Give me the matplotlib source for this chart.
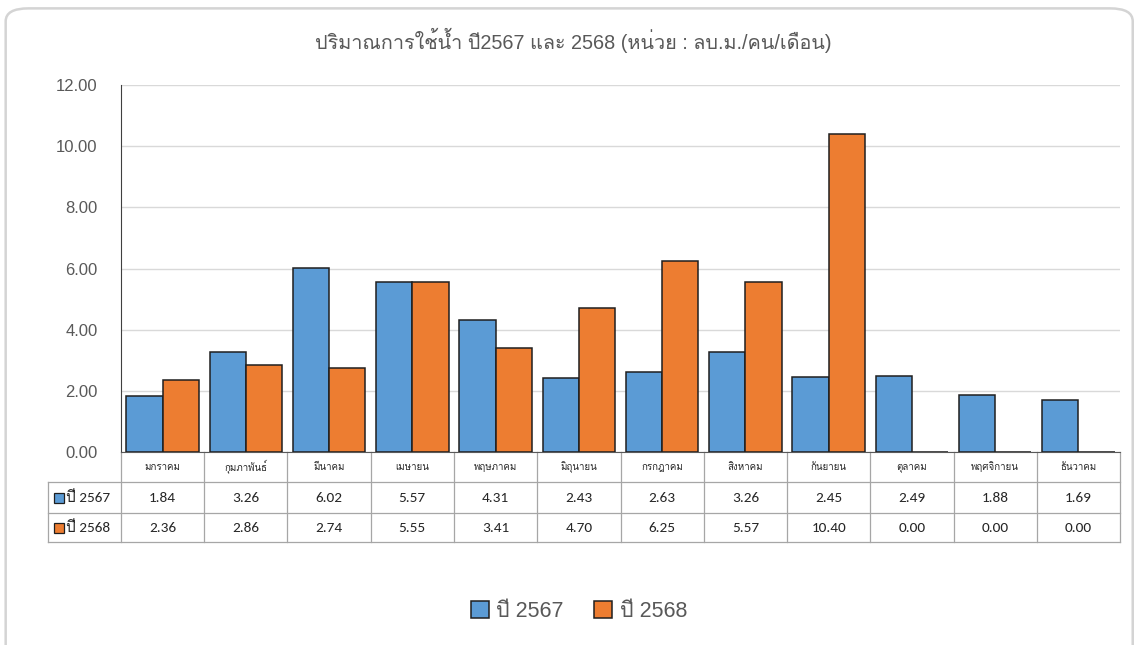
import numpy as np
import matplotlib
matplotlib.use("Agg")
import matplotlib.pyplot as plt
from matplotlib import font_manager
from matplotlib.ft2font import FT2Font
from matplotlib.patches import FancyBboxPatch

# data
months = ['มกราคม', 'กุมภาพันธ์', 'มีนาคม', 'เมษายน', 'พฤษภาคม', 'มิถุนายน',
          'กรกฎาคม', 'สิงหาคม', 'กันยายน', 'ตุลาคม', 'พฤศจิกายน', 'ธันวาคม']
y2567 = [1.84, 3.26, 6.02, 5.57, 4.31, 2.43, 2.63, 3.26, 2.45, 2.49, 1.88, 1.69]
y2568 = [2.36, 2.86, 2.74, 5.55, 3.41, 4.70, 6.25, 5.57, 10.40, 0.00, 0.00, 0.00]
series_names = ['ปี 2567', 'ปี 2568']
title = 'ปริมาณการใช้น้ำ ปี2567 และ 2568 (หน่วย : ลบ.ม./คน/เดือน)'

BLUE = '#5B9BD5'
ORANGE = '#ED7D31'
GRAY_TXT = '#595959'


def findThaiFont():
    # look for any installed font that has Thai glyphs
    for f in font_manager.fontManager.ttflist:
        try:
            cmap = FT2Font(f.fname).get_charmap()
        except Exception:
            continue
        if 0x0E1B in cmap and 0x0E49 in cmap:
            return f.name
    return 'DejaVu Sans'


thai = findThaiFont()
fams = ['Liberation Sans', thai, 'DejaVu Sans']
num_fams = ['Carlito', 'Liberation Sans', thai, 'DejaVu Sans']
plt.rcParams['font.family'] = fams

fig = plt.figure(figsize=(11.35, 6.45), dpi=100)

# rounded outer frame
frame = FancyBboxPatch((0.005, -0.02), 0.993, 1.007, boxstyle='round,pad=0,rounding_size=0.02',
                       transform=fig.transFigure, facecolor='white', edgecolor='#d4d4d4',
                       linewidth=1.8, zorder=-10)
fig.patches.append(frame)

ax = fig.add_axes([0.1066, 0.2992, 0.8802, 0.569])
x = np.arange(len(months))
w = 0.435
b1 = ax.bar(x - w / 2, y2567, w, color=BLUE, edgecolor='#1f1f1f', linewidth=1.1,
            label=series_names[0], zorder=3)
b2 = ax.bar(x + w / 2, y2568, w, color=ORANGE, edgecolor='#1f1f1f', linewidth=1.1,
            label=series_names[1], zorder=3)

ax.set_ylim(0, 12)
ax.set_yticks(np.arange(0, 12.1, 2))
ax.set_yticklabels(['%.2f' % v for v in np.arange(0, 12.1, 2)], color=GRAY_TXT, fontsize=12)
ax.yaxis.grid(True, color='#d9d9d9', linewidth=1, zorder=0)
ax.set_xticks([])
ax.tick_params(axis='y', length=0, pad=17)
for s in ['top', 'right']:
    ax.spines[s].set_visible(False)
ax.spines['left'].set_color('#404040')
ax.spines['bottom'].set_color('#595959')

fig.text(0.505, 0.938, title, ha='center', va='center', color=GRAY_TXT, fontsize=14.3,
         family=fams)

# data table under the axis
trans = ax.get_xaxis_transform()
line_c = '#a6a6a6'
y_head = -0.0817
y_r1 = -0.1662
y_r2 = -0.2452
x_left = -1.377
edges = np.arange(-0.5, len(months) + 0.5, 1)
for e in edges:
    ax.plot([e, e], [0, y_r2], color=line_c, lw=0.9, transform=trans, clip_on=False)
ax.plot([x_left, x_left], [y_head, y_r2], color=line_c, lw=0.9, transform=trans, clip_on=False)
for yy in [y_head, y_r1, y_r2]:
    ax.plot([x_left, edges[-1]], [yy, yy], color=line_c, lw=0.9, transform=trans, clip_on=False)

for i, m in enumerate(months):
    ax.text(i, y_head / 2, m, ha='center', va='center', fontsize=7, color='#262626',
            transform=trans, family=fams)
    ax.text(i, (y_head + y_r1) / 2, '%.2f' % y2567[i], ha='center', va='center',
            fontsize=11, color='#262626', transform=trans, family=num_fams)
    ax.text(i, (y_r1 + y_r2) / 2, '%.2f' % y2568[i], ha='center', va='center',
            fontsize=11, color='#262626', transform=trans, family=num_fams)

for yc, col, name in [((y_head + y_r1) / 2, BLUE, series_names[0]),
                      ((y_r1 + y_r2) / 2, ORANGE, series_names[1])]:
    ax.plot([-1.245], [yc], marker='s', ms=7, mfc=col, mec='#1f1f1f', mew=0.9,
            transform=trans, clip_on=False)
    ax.text(-1.16, yc, name, ha='left', va='center', fontsize=11, color='#262626',
            transform=trans, family=num_fams)

ax.set_xlim(-0.5, len(months) - 0.5)
ax.set_ylim(0, 12)

fig.legend(handles=[b1, b2], labels=series_names, loc='center', bbox_to_anchor=(0.51, 0.052),
           ncol=2, frameon=False, fontsize=15.5, handlelength=0.85, handleheight=0.85,
           handletextpad=0.35, columnspacing=1.4, labelcolor=GRAY_TXT)

fig.savefig('out.png', dpi=100)
